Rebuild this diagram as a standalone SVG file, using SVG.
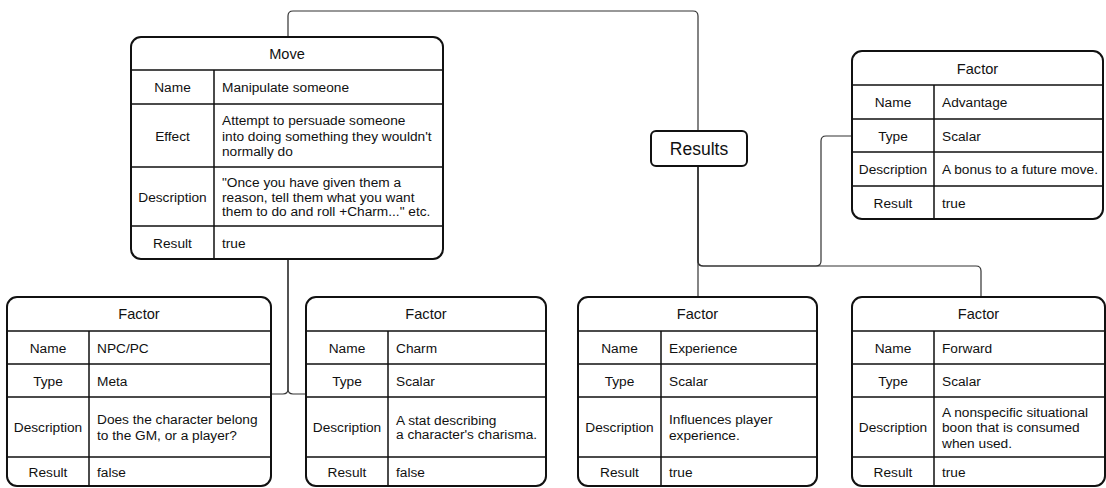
<svg xmlns="http://www.w3.org/2000/svg" width="1106" height="488" viewBox="0 0 1106 488">
<style>
.box{fill:#fff;stroke:#111;stroke-width:2}
.ln{stroke:#111;stroke-width:1.5;fill:none}
text{font-family:"Liberation Sans",Arial,sans-serif;font-size:13.7px;fill:#111}
.c{text-anchor:middle}
.h{font-size:14.6px}
.r{font-size:17.5px}
.conn{fill:none;stroke:#333;stroke-width:1.2}
</style>
<rect width="1106" height="488" fill="#fff"/>
<g id="connectors">
<path class="conn" d="M288,37 V16 Q288,11 293,11 H693 Q698,11 698,16 V131"/>
<path class="conn" d="M698,166 V297"/>
<path class="conn" d="M698,166 V261 Q698,266 703,266 H976 Q981,266 981,271 V297"/>
<path class="conn" d="M698,166 V261 Q698,266 703,266 H816 Q821,266 821,261 V141 Q821,136 826,136 H852"/>
<path class="conn" d="M288,259 V389 Q288,394 283,394 H271"/>
<path class="conn" d="M288,259 V389 Q288,394 293,394 H306"/>
</g>
<g id="move">
<rect class="box" x="131" y="37" width="312" height="222" rx="10"/>
<path class="ln" d="M131,70 H443 M131,104 H443 M131,167 H443 M131,226 H443 M214,70 V259"/>
<text class="c h" x="287" y="59">Move</text>
<text class="c" x="172.5" y="92">Name</text>
<text x="222" y="92">Manipulate someone</text>
<text class="c" x="172.5" y="140.5">Effect</text>
<text x="222" y="125">Attempt to persuade someone</text>
<text x="222" y="140.5">into doing something they wouldn't</text>
<text x="222" y="156">normally do</text>
<text class="c" x="172.5" y="201.5">Description</text>
<text x="222" y="187">"Once you have given them a</text>
<text x="222" y="201.5">reason, tell them what you want</text>
<text x="222" y="216">them to do and roll +Charm..." etc.</text>
<text class="c" x="172.5" y="247.5">Result</text>
<text x="222" y="247.5">true</text>
</g>
<g id="results">
<rect class="box" x="651" y="131" width="96" height="35" rx="5"/>
<text class="c r" x="699" y="155">Results</text>
</g>
<g id="factor-advantage">
<rect class="box" x="852" y="51" width="251" height="168" rx="10"/>
<path class="ln" d="M852,85 H1103 M852,119 H1103 M852,152 H1103 M852,186 H1103 M934,85 V219"/>
<text class="c h" x="977.5" y="73.5">Factor</text>
<text class="c" x="893" y="107">Name</text>
<text x="942" y="107">Advantage</text>
<text class="c" x="893" y="140.5">Type</text>
<text x="942" y="140.5">Scalar</text>
<text class="c" x="893" y="174">Description</text>
<text x="942" y="174">A bonus to a future move.</text>
<text class="c" x="893" y="207.5">Result</text>
<text x="942" y="207.5">true</text>
</g>
<g id="factor-npc">
<rect class="box" x="7" y="297" width="264" height="189" rx="10"/>
<path class="ln" d="M7,331 H271 M7,364 H271 M7,397 H271 M7,457 H271 M89,331 V486"/>
<text class="c h" x="139" y="319">Factor</text>
<text class="c" x="48" y="352.5">Name</text>
<text x="97" y="352.5">NPC/PC</text>
<text class="c" x="48" y="385.5">Type</text>
<text x="97" y="385.5">Meta</text>
<text class="c" x="48" y="432">Description</text>
<text x="97" y="424">Does the character belong</text>
<text x="97" y="439.5">to the GM, or a player?</text>
<text class="c" x="48" y="476.5">Result</text>
<text x="97" y="476.5">false</text>
</g>
<g id="factor-charm">
<rect class="box" x="306" y="297" width="240" height="189" rx="10"/>
<path class="ln" d="M306,331 H546 M306,364 H546 M306,397 H546 M306,457 H546 M388,331 V486"/>
<text class="c h" x="426" y="319">Factor</text>
<text class="c" x="347" y="352.5">Name</text>
<text x="396" y="352.5">Charm</text>
<text class="c" x="347" y="385.5">Type</text>
<text x="396" y="385.5">Scalar</text>
<text class="c" x="347" y="432">Description</text>
<text x="396" y="425">A stat describing</text>
<text x="396" y="438.5">a character's charisma.</text>
<text class="c" x="347" y="476.5">Result</text>
<text x="396" y="476.5">false</text>
</g>
<g id="factor-experience">
<rect class="box" x="578" y="297" width="239" height="189" rx="10"/>
<path class="ln" d="M578,331 H817 M578,364 H817 M578,397 H817 M578,457 H817 M661,331 V486"/>
<text class="c h" x="697.5" y="319">Factor</text>
<text class="c" x="619.5" y="352.5">Name</text>
<text x="669" y="352.5">Experience</text>
<text class="c" x="619.5" y="385.5">Type</text>
<text x="669" y="385.5">Scalar</text>
<text class="c" x="619.5" y="432">Description</text>
<text x="669" y="424">Influences player</text>
<text x="669" y="439.5">experience.</text>
<text class="c" x="619.5" y="476.5">Result</text>
<text x="669" y="476.5">true</text>
</g>
<g id="factor-forward">
<rect class="box" x="852" y="297" width="253" height="189" rx="10"/>
<path class="ln" d="M852,331 H1105 M852,364 H1105 M852,397 H1105 M852,457 H1105 M934,331 V486"/>
<text class="c h" x="978.5" y="319">Factor</text>
<text class="c" x="893" y="352.5">Name</text>
<text x="942" y="352.5">Forward</text>
<text class="c" x="893" y="385.5">Type</text>
<text x="942" y="385.5">Scalar</text>
<text class="c" x="893" y="432">Description</text>
<text x="942" y="416.5">A nonspecific situational</text>
<text x="942" y="432">boon that is consumed</text>
<text x="942" y="447.5">when used.</text>
<text class="c" x="893" y="476.5">Result</text>
<text x="942" y="476.5">true</text>
</g>
</svg>
